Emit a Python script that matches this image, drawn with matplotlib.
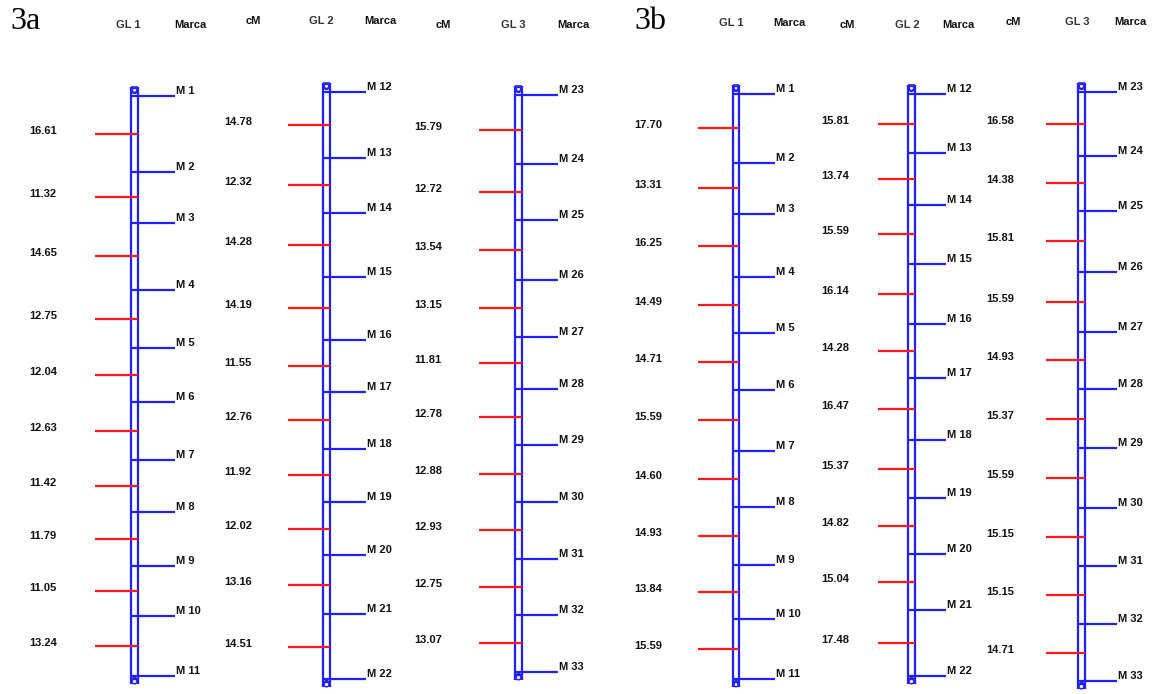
import matplotlib
matplotlib.use("Agg")
import matplotlib.pyplot as plt
import numpy as np
from matplotlib.patches import Ellipse, Arc

# ---------------- data ----------------
panels = ["3a", "3b"]
groups = ["GL 1", "GL 2", "GL 3"]

cm_3a_gl1 = [16.61, 11.32, 14.65, 12.75, 12.04, 12.63, 11.42, 11.79, 11.05, 13.24]
cm_3a_gl2 = [14.78, 12.32, 14.28, 14.19, 11.55, 12.76, 11.92, 12.02, 13.16, 14.51]
cm_3a_gl3 = [15.79, 12.72, 13.54, 13.15, 11.81, 12.78, 12.88, 12.93, 12.75, 13.07]
cm_3b_gl1 = [17.70, 13.31, 16.25, 14.49, 14.71, 15.59, 14.60, 14.93, 13.84, 15.59]
cm_3b_gl2 = [15.81, 13.74, 15.59, 16.14, 14.28, 16.47, 15.37, 14.82, 15.04, 17.48]
cm_3b_gl3 = [16.58, 14.38, 15.81, 15.59, 14.93, 15.37, 15.59, 15.15, 15.15, 14.71]

markers_gl1 = ["M 1", "M 2", "M 3", "M 4", "M 5", "M 6", "M 7", "M 8", "M 9", "M 10", "M 11"]
markers_gl2 = ["M 12", "M 13", "M 14", "M 15", "M 16", "M 17", "M 18", "M 19", "M 20", "M 21", "M 22"]
markers_gl3 = ["M 23", "M 24", "M 25", "M 26", "M 27", "M 28", "M 29", "M 30", "M 31", "M 32", "M 33"]

# ---------------- layout (pixels) ----------------
W, H = 1153, 694
BLUE = "#1f1fff"
RED = "#ff1a1a"
TXT = "#111111"
FONT = ["Liberation Sans Narrow", "Liberation Sans", "DejaVu Sans"]

# (intervals, markers, chr_x0, chr_x1, red_x0, mark_x1, label_x, top_px, bottom_px)
chroms = [
    (cm_3a_gl1, markers_gl1, 131, 138, 95, 175, 43, 96, 676),
    (cm_3a_gl2, markers_gl2, 323, 330, 288, 366, 238, 92, 679),
    (cm_3a_gl3, markers_gl3, 515, 522, 479, 558, 428, 95, 672),
    (cm_3b_gl1, markers_gl1, 733, 739, 698, 775, 648, 94, 679),
    (cm_3b_gl2, markers_gl2, 908, 915, 878, 946, 835, 94, 676),
    (cm_3b_gl3, markers_gl3, 1078, 1085, 1046, 1117, 1000, 92, 681),
]

# header texts: (text, x, y)
headers = [
    ("GL 1", 128, 25), ("Marca", 190, 25),
    ("cM", 253, 21), ("GL 2", 321, 21), ("Marca", 380, 21),
    ("cM", 443, 25), ("GL 3", 513, 25), ("Marca", 573, 25),
    ("GL 1", 731, 23), ("Marca", 789, 23),
    ("cM", 847, 25), ("GL 2", 907, 25), ("Marca", 958, 25),
    ("cM", 1013, 22), ("GL 3", 1077, 22), ("Marca", 1130, 22),
]
panel_pos = [(10, 21), (634, 21)]

fig = plt.figure(figsize=(W / 100, H / 100), dpi=100)
fig.patch.set_facecolor("white")

# overlay axes for headers
ov = fig.add_axes([0, 0, 1, 1])
ov.set_xlim(0, W)
ov.set_ylim(H, 0)
ov.axis("off")
for (t, x, y) in headers:
    col = "#333333" if t.startswith("GL") else TXT
    ov.text(x, y, t, ha="center", va="center", fontsize=8, fontweight="bold",
            color=col, family=FONT)
for name, (x, y) in zip(panels, panel_pos):
    ov.text(x, y, name, ha="left", va="center", fontsize=23,
            family=["Liberation Serif", "DejaVu Serif"], color="black")

lw = 1.6
for (iv, mk, x0, x1, rx0, mx1, lx, top, bot) in chroms:
    iv = np.asarray(iv)
    pos = np.concatenate([[0.0], np.cumsum(iv)])
    mids = pos[:-1] + iv / 2.0
    total = pos[-1]
    scale = (bot - top) / total  # px per cM
    ax = fig.add_axes([0, 1 - bot / H, 1, (bot - top) / H])
    ax.set_xlim(0, W)
    ax.set_ylim(total, 0)
    ax.axis("off")
    px = 1.0 / scale  # one pixel in cM units

    # chromosome rails
    ytop = -9 * px
    ybot = total + 8 * px
    ax.vlines([x0, x1], ytop, ybot, colors=BLUE, lw=lw, clip_on=False)
    xm = (x0 + x1) / 2.0
    # caps
    ax.hlines(ytop, x0, x1, colors=BLUE, lw=1.2, clip_on=False)
    ax.add_patch(Arc((xm, ytop), x1 - x0, 12 * px, theta1=0, theta2=180,
                     color=BLUE, lw=lw, clip_on=False))
    ax.add_patch(Ellipse((xm, ytop + 3.5 * px), x1 - x0 - 1.5, 4.5 * px, fill=False,
                         ec=BLUE, lw=1.1, clip_on=False))
    ax.add_patch(Arc((xm, ybot), x1 - x0, 12 * px, theta1=180, theta2=360,
                     color=BLUE, lw=lw, clip_on=False))
    ax.add_patch(Ellipse((xm, ybot - 2.5 * px), x1 - x0 - 1.5, 4.5 * px, fill=False,
                         ec=BLUE, lw=1.1, clip_on=False))

    # marker lines
    ax.hlines(pos, x0, mx1, colors=BLUE, lw=lw, clip_on=False)
    for y, m in zip(pos, mk):
        ax.text(mx1 + 1, y - 5 * px, m, ha="left", va="center", fontsize=8,
                fontweight="bold", color=TXT, family=FONT)
    # interval (red) lines and cM labels
    ax.hlines(mids, rx0, x1, colors=RED, lw=lw, clip_on=False)
    for y, v in zip(mids, iv):
        ax.text(lx, y - 3 * px, f"{v:.2f}", ha="center", va="center", fontsize=8,
                fontweight="bold", color=TXT, family=FONT)

fig.savefig("out.png", dpi=100, facecolor="white")
